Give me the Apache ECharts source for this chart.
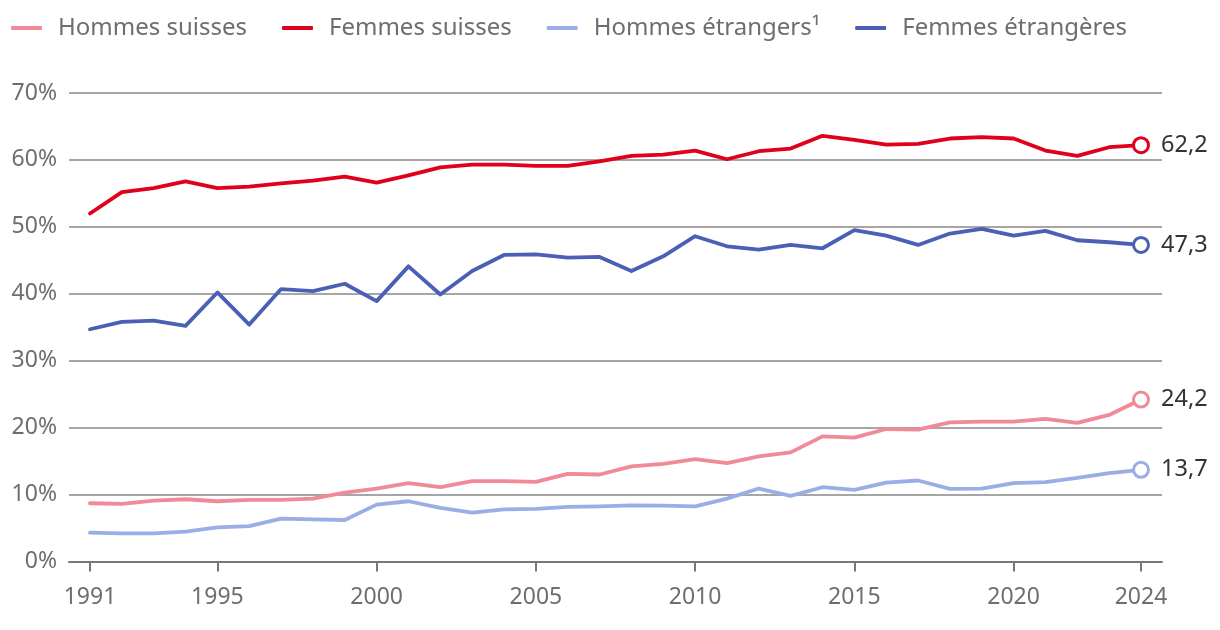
<!DOCTYPE html>
<html>
<head>
<meta charset="utf-8">
<script src="https://cdn.jsdelivr.net/npm/echarts@6/dist/echarts.min.js"></script>
<style>
html,body{margin:0;padding:0;background:#fff;}
#c{width:1220px;height:630px;}
</style>
</head>
<body>
<div id="c"></div>
<script>
const years = [1991,1992,1993,1994,1995,1996,1997,1998,1999,2000,2001,2002,2003,2004,2005,2006,2007,2008,2009,2010,2011,2012,2013,2014,2015,2016,2017,2018,2019,2020,2021,2022,2023,2024];
const hommesSuisses = [8.7,8.6,9.1,9.3,9.0,9.2,9.2,9.4,10.3,10.9,11.7,11.1,12.0,12.0,11.9,13.1,13.0,14.2,14.6,15.3,14.7,15.7,16.3,18.7,18.5,19.8,19.7,20.8,20.9,20.9,21.3,20.7,21.9,24.2];
const femmesSuisses = [52.0,55.2,55.8,56.8,55.8,56.0,56.5,56.9,57.5,56.6,57.7,58.9,59.3,59.3,59.1,59.1,59.8,60.6,60.8,61.4,60.1,61.3,61.7,63.6,63.0,62.3,62.4,63.2,63.4,63.2,61.4,60.6,61.9,62.2];
const hommesEtrangers = [4.3,4.2,4.2,4.45,5.1,5.3,6.4,6.3,6.2,8.5,9.0,8.0,7.3,7.8,7.85,8.15,8.25,8.4,8.35,8.25,9.4,10.9,9.8,11.1,10.7,11.8,12.1,10.85,10.9,11.7,11.85,12.5,13.2,13.7];
const femmesEtrangeres = [34.7,35.8,36.0,35.2,40.2,35.4,40.7,40.4,41.5,38.9,44.1,39.9,43.4,45.8,45.9,45.4,45.5,43.4,45.6,48.6,47.1,46.6,47.3,46.8,49.5,48.7,47.3,49.0,49.7,48.7,49.4,48.0,47.7,47.3];
const seriesNames = ["Hommes suisses","Femmes suisses","Hommes étrangers¹","Femmes étrangères"];
const colors = ["#ef8a96","#e0001b","#9badE6","#4a60b4"];
const xTicks = [1991,1995,2000,2005,2010,2015,2020,2024];

const fmt = v => v.toFixed(1).replace('.', ',');
const allData = [hommesSuisses, femmesSuisses, hommesEtrangers, femmesEtrangeres];

const series = allData.map((arr, i) => ({
  name: seriesNames[i],
  type: 'line',
  color: colors[i],
  lineStyle: {width: 3.8, color: colors[i], cap: 'round', join: 'round'},
  showSymbol: true,
  symbol: 'none',
  z: 10 - i,
  data: arr.map((v, j) => {
    const item = {value: [years[j], v]};
    if (j === arr.length - 1) {
      item.symbol = 'circle';
      item.symbolSize = 15;
      item.itemStyle = {color: '#fff', borderColor: colors[i], borderWidth: 3};
      item.label = {show: true, position: 'right', distance: 11, formatter: () => fmt(v), color: '#333', fontSize: 23.5, fontFamily: 'Noto Sans'};
    }
    return item;
  }),
  emphasis: {disabled: true},
  animation: false
}));

const chart = echarts.init(document.getElementById('c'), null, {renderer: 'canvas'});
chart.setOption({
  backgroundColor: '#fff',
  animation: false,
  textStyle: {fontFamily: 'Noto Sans'},
  legend: {
    left: 6, top: 11,
    itemWidth: 31, itemHeight: 4,
    itemGap: 35,
    icon: 'roundRect',
    textStyle: {color: '#6e6e6e', fontSize: 24, fontFamily: 'Noto Sans', padding: [0,0,0,11]},
    data: seriesNames
  },
  grid: {left: 69, right: 58, top: 93, bottom: 68.5, containLabel: false},
  xAxis: {
    type: 'value',
    min: 1991 - 21/31.85,
    max: 2024 + 21/31.85,
    splitLine: {show: false},
    axisLine: {show: true, lineStyle: {color: '#777', width: 2}},
    axisTick: {show: true, length: 10, lineStyle: {color: '#777', width: 2}, customValues: xTicks},
    axisLabel: {customValues: xTicks, color: '#6e6e6e', fontSize: 23, margin: 24, fontFamily: 'Noto Sans', formatter: v => String(v)}
  },
  yAxis: {
    type: 'value',
    min: 0, max: 70, interval: 10,
    axisLine: {show: false},
    axisTick: {show: false},
    splitLine: {show: true, lineStyle: {color: '#888', width: 1.5}},
    axisLabel: {color: '#6e6e6e', fontSize: 23, margin: 12, fontFamily: 'Noto Sans', formatter: v => v + '%'}
  },
  series: series
});
</script>
</body>
</html>
